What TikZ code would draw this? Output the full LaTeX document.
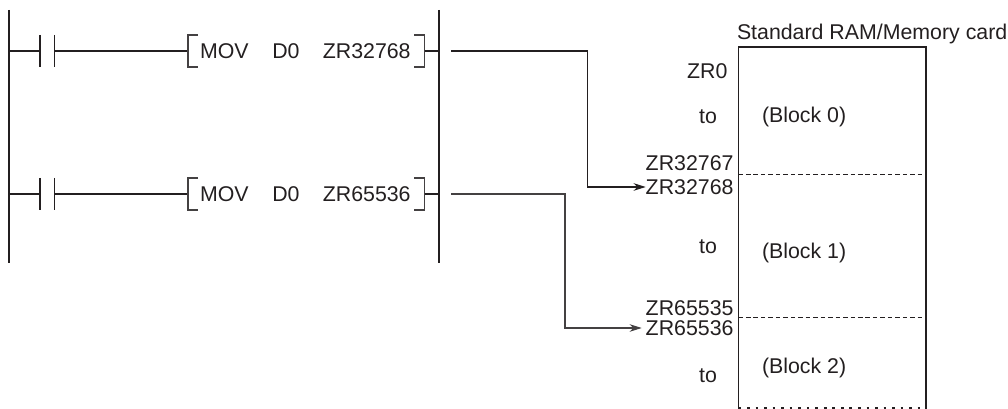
\documentclass[tikz,border=0pt]{standalone}
\usepackage{fontspec}
\setmainfont{Liberation Sans}
\usetikzlibrary{arrows.meta,positioning,calc}
\definecolor{finkk}{HTML}{231F20}
\tikzset{
  rail/.style    = {line width=1.2pt, finkk},
  rung/.style    = {line width=1.1pt, finkk},
  bracket/.style = {line width=0.8pt, finkk!85},
  sig/.style     = {-{Stealth[length=3.2mm,width=2mm]}, line width=1.1pt, finkk},
  sigthin/.style = {-{Stealth[length=3.2mm,width=2mm]}, line width=0.8pt, finkk!85},
  lbl/.style     = {inner sep=0pt, outer sep=0pt, text=finkk},
  memline/.style = {line width=1.2pt, finkk},
  divide/.style  = {line width=0.6pt, finkk, dash pattern=on 3.4pt off 2.2pt},
}

\begin{document}
\begin{tikzpicture}[x=0.75pt,y=-0.75pt,font=\fontsize{16}{18}\selectfont]
\useasboundingbox (0,0) rectangle (1008,409);
\coordinate (railLtop) at (9,10);
\coordinate (railLbot) at (9,263);
\coordinate (railRtop) at (439,10);
\coordinate (railRbot) at (439,263);
\draw[rail] (railLtop) -- (railLbot);
\draw[rail] (railRtop) -- (railRbot);
\foreach \y/\t in {51/32768,194/65536}{
  \node[lbl,anchor=west] (mov\t) at (200,\y+0.5) {MOV\hspace{17.75pt}D0\hspace{17.5pt}ZR\t};
  \draw[rung] (9,\y) -- (40,\y);
  \draw[rail] (40,\y-16) -- (40,\y+16);
  \draw[rail] (54.5,\y-16) -- (54.5,\y+16);
  \draw[rung] (54.5,\y) -- (188,\y);
  \draw[bracket] (198,\y-16) -- (188,\y-16) -- (188,\y+16) -- (198,\y+16);
  \draw[bracket] (414,\y-16) -- (424.5,\y-16) -- (424.5,\y+16) -- (414,\y+16);
  \draw[rung] (424.5,\y) -- (439,\y);
}
\node[lbl,anchor=west] (title) at (737,34) {Standard RAM/Memory card};
\coordinate (memTL) at (738.5,47);
\coordinate (memTR) at (926,47);
\coordinate (memBL) at (738.5,409);
\coordinate (memBR) at (926,409);
\draw[memline] (memBL) -- (memTL) -- (memTR) -- (memBR);
\draw[divide] (738.5,174.5) -- (926,174.5);
\draw[divide] (738.5,317) -- (926,317);
\draw[line width=0.9pt, finkk, dash pattern=on 2pt off 4.4pt] (738.5,408) -- (926,408);
\node[lbl,anchor=east] (zr0) at (727.5,71) {ZR0};
\node[lbl] (to0) at (708,116.5) {to};
\node[lbl,anchor=west] (block0) at (762,117) {(Block 0)};
\node[lbl,anchor=east] (zr32767) at (733.5,163) {ZR32767};
\node[lbl,anchor=east] (zr32768) at (733.5,187) {ZR32768};
\node[lbl] (to1) at (708,247) {to};
\node[lbl,anchor=west] (block1) at (762,253) {(Block 1)};
\node[lbl,anchor=east] (zr65535) at (733.5,308) {ZR65535};
\node[lbl,anchor=east] (zr65536) at (733.5,328) {ZR65536};
\node[lbl] (to2) at (708,375.5) {to};
\node[lbl,anchor=west] (block2) at (762,368) {(Block 2)};
\coordinate (out1) at (451,51);
\coordinate (out2) at (451,194);
\coordinate (bend1) at (587.5,51);
\coordinate (bend2) at (565,194);
\draw[sig] (out1) -- (bend1) |- (zr32768.west);
\draw[sigthin] (out2) -- (bend2) |- ([xshift=-3pt]zr65536.west);
\end{tikzpicture}
\end{document}
